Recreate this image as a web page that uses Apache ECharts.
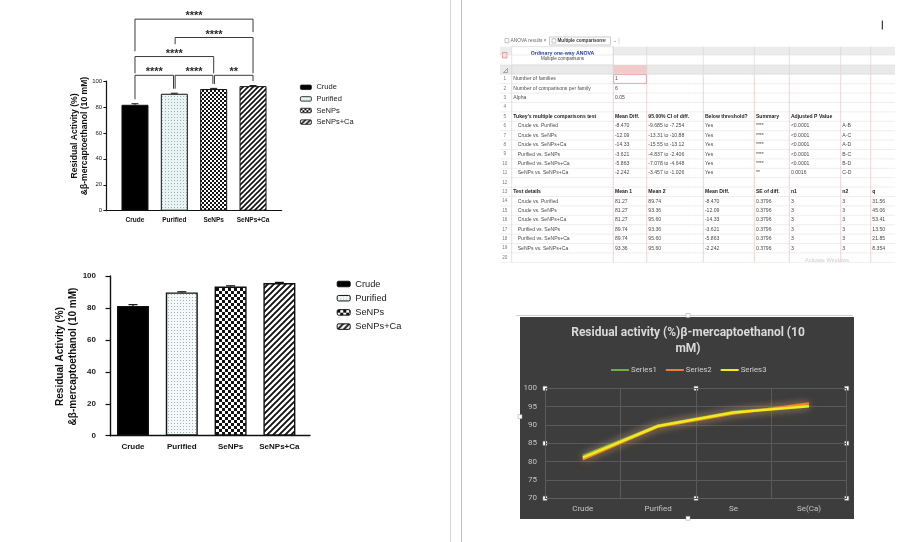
<!DOCTYPE html>
<html><head><meta charset="utf-8">
<script src="https://cdn.jsdelivr.net/npm/echarts/dist/echarts.min.js"></script>
<style>
html,body{margin:0;padding:0;background:#fff;overflow:hidden;}
#darkbg{position:absolute;left:520px;top:316.5px;width:334px;height:202px;background:#3d3d3d;}
#chart{position:absolute;left:0;top:0;width:916px;height:542px;}
</style></head>
<body>
<div id="darkbg"></div>
<div id="chart"></div>
<script>
// ---------------- DATA ----------------
const categories = ['Crude', 'Purified', 'SeNPs', 'SeNPs+Ca'];
const meanActivity = [81.27, 89.74, 93.36, 95.60];
const errActivity = [0.8, 0.4, 0.5, 0.4];
const yTitleLines = ['Residual Activity (%)', '&β-mercaptoethanol (10 mM)'];
// comparisons: [groupA, groupB, significance]
const comparisons = [[0, 1, '****'], [1, 2, '****'], [2, 3, '**'], [0, 2, '****'], [1, 3, '****'], [0, 3, '****']];

const lineTitle = ['Residual activity (%)β-mercaptoethanol (10', 'mM)'];
const lineCategories = ['Crude', 'Purified', 'Se', 'Se(Ca)'];
const lineSeriesNames = ['Series1', 'Series2', 'Series3'];
const series1 = [81.6, 89.9, 93.6, 95.3];
const series2 = [80.6, 89.5, 93.1, 95.9];
const series3 = [81.1, 89.7, 93.4, 95.1];

const sheetRows = [
  ['Number of families', '1'],
  ['Number of comparisons per family', '6'],
  ['Alpha', '0.05'],
  [],
  ["Tukey's multiple comparisons test", 'Mean Diff.', '95.00% CI of diff.', 'Below threshold?', 'Summary', 'Adjusted P Value', ''],
  ['Crude vs. Purified', '-8.470', '-9.685 to -7.254', 'Yes', '****', '<0.0001', 'A-B'],
  ['Crude vs. SeNPs', '-12.09', '-13.31 to -10.88', 'Yes', '****', '<0.0001', 'A-C'],
  ['Crude vs. SeNPs+Ca', '-14.33', '-15.55 to -13.12', 'Yes', '****', '<0.0001', 'A-D'],
  ['Purified vs. SeNPs', '-3.621', '-4.837 to -2.406', 'Yes', '****', '<0.0001', 'B-C'],
  ['Purified vs. SeNPs+Ca', '-5.863', '-7.078 to -4.648', 'Yes', '****', '<0.0001', 'B-D'],
  ['SeNPs vs. SeNPs+Ca', '-2.242', '-3.457 to -1.026', 'Yes', '**', '0.0016', 'C-D'],
  [],
  ['Test details', 'Mean 1', 'Mean 2', 'Mean Diff.', 'SE of diff.', 'n1', 'n2', 'q'],
  ['Crude vs. Purified', '81.27', '89.74', '-8.470', '0.3796', '3', '3', '31.56'],
  ['Crude vs. SeNPs', '81.27', '93.36', '-12.09', '0.3796', '3', '3', '45.06'],
  ['Crude vs. SeNPs+Ca', '81.27', '95.60', '-14.33', '0.3796', '3', '3', '53.41'],
  ['Purified vs. SeNPs', '89.74', '93.36', '-3.621', '0.3796', '3', '3', '13.50'],
  ['Purified vs. SeNPs+Ca', '89.74', '95.60', '-5.863', '0.3796', '3', '3', '21.85'],
  ['SeNPs vs. SeNPs+Ca', '93.36', '95.60', '-2.242', '0.3796', '3', '3', '8.354'],
  []
];
const boldRows = [5, 13];
const indentRows = [6, 7, 8, 9, 10, 11, 14, 15, 16, 17, 18, 19];

// ---------------- STYLE / LAYOUT ----------------
const FF = '"Liberation Sans", Arial, sans-serif';
const XF = 'Roboto, "Open Sans", sans-serif';
// bracket geometry (y-axis units of top-left panel)
const bracketLevel = [103.9, 103.9, 103.9, 118.3, 132.9, 147.0];
const bracketLegs = [null, null, null, [105.4, 105.4], [127.8, 105.4], [122.4, 137.0]];
const bracketInset = [[0, -0.8], [0.8, -0.8], [0.8, 0], [0, 0], [0.8, 0], [0, 0]];

function pat(kind, size) {
  const c = document.createElement('canvas');
  const ctx = c.getContext('2d');
  if (kind === 'dots') {
    c.width = c.height = 3;
    ctx.fillStyle = size > 2 ? '#f5f9f9' : '#eaf3f3'; ctx.fillRect(0, 0, 3, 3);
    ctx.fillStyle = '#9fb5b5'; ctx.fillRect(0, 0, 1, 1);
  } else if (kind === 'check') {
    const s = size; c.width = c.height = 2 * s;
    ctx.fillStyle = '#fff'; ctx.fillRect(0, 0, 2 * s, 2 * s);
    ctx.fillStyle = '#111'; ctx.fillRect(0, 0, s, s); ctx.fillRect(s, s, s, s);
  } else {
    const s = size; c.width = c.height = s;
    ctx.fillStyle = '#fff'; ctx.fillRect(0, 0, s, s);
    ctx.strokeStyle = '#111'; ctx.lineWidth = s * 0.32;
    ctx.beginPath();
    ctx.moveTo(-1, s + 1); ctx.lineTo(s + 1, -1);
    ctx.moveTo(-1, 1); ctx.lineTo(1, -1);
    ctx.moveTo(s - 1, s + 1); ctx.lineTo(s + 1, s - 1);
    ctx.stroke();
  }
  return { image: c, repeat: 'repeat' };
}
const fills1 = ['#000', pat('dots', 2), pat('check', 2), pat('stripe', 5)];
const fills2 = ['#000', pat('dots', 3), pat('check', 3), pat('stripe', 6)];

const chart = echarts.init(document.getElementById('chart'), null, { renderer: 'canvas', width: 916, height: 542 });

function barSeries(fills, xi, yi, bw, bwidth) {
  return categories.map((name, i) => ({
    type: 'bar', name: name, xAxisIndex: xi, yAxisIndex: yi, barWidth: bw, barGap: '-100%',
    data: meanActivity.map((v, j) => (j === i ? v : '-')),
    itemStyle: { color: fills[i], borderColor: '#111', borderWidth: bwidth },
    silent: true, z: 3
  }));
}
function errSeries(xi, yi, cap, lw) {
  return {
    type: 'custom', name: 'err' + xi, xAxisIndex: xi, yAxisIndex: yi, z: 4, silent: true, clip: false,
    data: meanActivity.map((v, i) => [i, v, v + errActivity[i]]),
    renderItem: (p, api) => {
      const b = api.coord([api.value(0), api.value(1)]);
      const t = api.coord([api.value(0), api.value(2)]);
      return { type: 'group', children: [
        { type: 'line', shape: { x1: b[0], y1: b[1], x2: b[0], y2: t[1] }, style: { stroke: '#111', lineWidth: lw } },
        { type: 'line', shape: { x1: b[0] - cap, y1: t[1], x2: b[0] + cap, y2: t[1] }, style: { stroke: '#111', lineWidth: lw } }
      ] };
    }
  };
}
const bracketSeries = {
  type: 'custom', name: 'brackets', xAxisIndex: 1, yAxisIndex: 1, z: 5, silent: true, clip: false,
  data: comparisons.map((c, i) => [c[0], bracketLevel[i]]),
  renderItem: (p, api) => {
    const i = p.dataIndex;
    const a = comparisons[i][0], b = comparisons[i][1];
    const pa = api.coord([a, bracketLevel[i]]);
    const pb = api.coord([b, bracketLevel[i]]);
    const xa = pa[0] + bracketInset[i][0], xb = pb[0] + bracketInset[i][1];
    let ya, yb;
    if (bracketLegs[i]) {
      ya = api.coord([a, bracketLegs[i][0]])[1];
      yb = api.coord([b, bracketLegs[i][1]])[1];
    } else {
      ya = api.coord([a, meanActivity[a] + errActivity[a]])[1] - 4.5;
      yb = api.coord([b, meanActivity[b] + errActivity[b]])[1] - 4.5;
    }
    return { type: 'group', children: [
      { type: 'polyline', shape: { points: [[xa, ya], [xa, pa[1]], [xb, pb[1]], [xb, yb]] }, style: { stroke: '#3a3a3a', lineWidth: 1, fill: null } },
      { type: 'text', x: (xa + xb) / 2, y: pa[1] - 3.0, style: { text: comparisons[i][2], font: 'bold 11px ' + FF, fill: '#2a2a2a', align: 'center', verticalAlign: 'middle', textAlign: 'center', textVerticalAlign: 'middle' } }
    ] };
  }
};

const lineColors = ['#70ad47', '#ed7d31', '#f2ea1c'];
const lineGlow = ['rgba(110,110,230,0.8)', 'rgba(237,125,49,0.65)', 'rgba(240,220,40,0.6)'];
const lineData = [series1, series2, series3];
const lineSeries = lineSeriesNames.map((n, i) => ({
  type: 'line', name: n, xAxisIndex: 4, yAxisIndex: 4, data: lineData[i], symbol: 'none', silent: true,
  color: lineColors[i],
  lineStyle: { color: lineColors[i], width: i === 2 ? 2.6 : 2.2, shadowBlur: 9, shadowColor: lineGlow[i] },
  itemStyle: { color: lineColors[i] }, z: 3 + i
}));

// ---------------- GRAPHIC (decor, titles, spreadsheet) ----------------
const g = [];
function T(x, y, text, font, fill, align, vAlign, extra) {
  return Object.assign({ type: 'text', x: x, y: y, silent: true,
    style: { text: text, font: font, fill: fill, align: align || 'left', verticalAlign: vAlign || 'middle', textAlign: align || 'left', textVerticalAlign: vAlign || 'middle' } }, extra || {});
}
function L(x1, y1, x2, y2, c, w) { return { type: 'line', silent: true, shape: { x1, y1, x2, y2 }, style: { stroke: c, lineWidth: w || 1 } }; }
function R(x, y, w, h, fill, stroke, lw) { return { type: 'rect', silent: true, shape: { x, y, width: w, height: h }, style: { fill: fill, stroke: stroke || null, lineWidth: lw || 0 } }; }

// page separators & cursor
g.push(L(450.5, 0, 450.5, 542, '#d6d6d6', 1));
g.push(L(461.5, 0, 461.5, 542, '#c2c2c2', 1));
g.push(L(882.3, 20.5, 882.3, 29.5, '#111', 1));

// rotated y titles
g.push(T(75, 136, yTitleLines[0], 'bold 8.6px ' + FF, '#111', 'center', 'middle', { rotation: Math.PI / 2 }));
g.push(T(85, 136, yTitleLines[1], 'bold 8.6px ' + FF, '#111', 'center', 'middle', { rotation: Math.PI / 2 }));
g.push(T(60, 356.5, yTitleLines[0], 'bold 10px ' + FF, '#111', 'center', 'middle', { rotation: Math.PI / 2 }));
g.push(T(73.3, 356.5, yTitleLines[1], 'bold 10px ' + FF, '#111', 'center', 'middle', { rotation: Math.PI / 2 }));

// excel chart: title, frame, handles
g.push(T(688, 333.3, lineTitle[0], 'bold 12px ' + XF, '#d9d9d9', 'center', 'middle'));
g.push(T(688, 349.3, lineTitle[1], 'bold 12px ' + XF, '#d9d9d9', 'center', 'middle'));
g.push(L(516, 315.5, 853, 315.5, '#cfcfcf', 1));
const handles = [[545, 388.3], [696, 388.3], [846.7, 388.3], [545, 443.3], [846.7, 443.3], [545, 498.3], [696, 498.3], [846.7, 498.3], [688, 315.5], [688, 518.3], [520, 416.7]];
handles.forEach(h => g.push(R(h[0] - 2, h[1] - 2, 4, 4, '#ffffff', '#9a9a9a', 0.5)));

// spreadsheet
const colX = [500, 511.7, 613.3, 646.7, 703.3, 754.3, 789.3, 840.7, 870.7, 895];
const rowTop0 = 74.3, rowH = 9.4;
const tableBottom = rowTop0 + sheetRows.length * rowH;
// tabs
g.push(R(505, 38.5, 3.8, 4.2, '#fff', '#888', 0.5));
g.push(T(510.5, 40.8, 'ANOVA results', '4.8px ' + FF, '#666', 'left'));
g.push(T(543.5, 40.8, '×', '5px ' + FF, '#777', 'left'));
g.push(R(549.5, 37, 61, 8, '#fff', '#a8a8a8', 0.6));
g.push(R(552, 38.8, 3.8, 4.2, '#fff', '#888', 0.5));
g.push(T(557.5, 40.8, 'Multiple comparisons', 'bold 4.6px ' + FF, '#333', 'left'));
g.push(T(603.5, 40.8, '×', '5px ' + FF, '#777', 'left'));
g.push(T(612.5, 40.8, '⌄', '5px ' + FF, '#777', 'left'));
g.push(L(619, 37.5, 619, 44, '#c8c8c8', 0.6));
// header bands
g.push(R(500, 46.7, 395, 8.3, '#ececec'));
g.push(R(613.3, 55, 281.7, 10, '#ffffff'));
g.push(R(511.7, 46.7, 101.6, 18.3, '#ffffff', '#d4d4d4', 0.6));
g.push(R(502.5, 52.5, 4.5, 5.5, '#f6dede', '#c06060', 0.5));
g.push(T(562.5, 54, 'Ordinary one-way ANOVA', 'bold 5.2px ' + FF, '#23389a', 'center'));
g.push(T(562.5, 59.2, 'Multiple comparisons', '4.6px ' + FF, '#444', 'center'));
g.push(R(500, 65, 395, 8.7, '#e9e9e9'));
g.push(R(613.3, 65, 33.4, 8.7, '#f3caca'));
g.push({ type: 'polygon', silent: true, shape: { points: [[503.5, 72.5], [507.5, 72.5], [507.5, 68.5]] }, style: { fill: null, stroke: '#777', lineWidth: 0.6 } });
// grid lines
for (let r = 0; r <= sheetRows.length; r++) {
  const y = rowTop0 + r * rowH;
  g.push(L(500, y, 895, y, '#e2e2e2', 0.6));
}
g.push(L(500, 55, 895, 55, '#e0e0e0', 0.6));
g.push(L(500, 65, 895, 65, '#dadada', 0.6));
g.push(L(500, 73.7, 895, 73.7, '#d6d6d6', 0.6));
colX.forEach((x, i) => {
  if (i === 0 || i === colX.length - 1) return;
  if (i >= 2) {
    g.push(L(x, 46.7, x, 73.7, '#d2d2d2', 0.6));
    g.push(L(x, 74.3, x, tableBottom, '#efc3c3', 0.7));
  } else {
    g.push(L(x, 65, x, tableBottom, '#cfcfcf', 0.6));
  }
});
// row numbers and cells
sheetRows.forEach((row, ri) => {
  const n = ri + 1;
  const cy = rowTop0 + ri * rowH + rowH / 2;
  g.push(T(504.8, cy, String(n), '4.6px ' + FF, '#7a7a7a', 'center'));
  const bold = boldRows.indexOf(n) >= 0;
  row.forEach((txt, ci) => {
    if (!txt) return;
    let x = colX[ci + 1] + 1.6;
    if (ci === 0 && indentRows.indexOf(n) >= 0) x += 4.4;
    g.push(T(x, cy, txt, (bold ? 'bold ' : '') + '5.1px ' + FF, bold ? '#222' : '#4a4a4a', 'left'));
  });
});
g.push(R(613.6, rowTop0 + 0.3, 32.8, rowH - 0.6, null, '#e09a9a', 0.8));
g.push(T(805, 260.2, 'Activate Windows', '5.6px ' + FF, '#cdcdcd', 'left'));

// ---------------- OPTION ----------------
const legendItems = (fills, bw) => categories.map((n, i) => ({ name: n, itemStyle: { color: fills[i], borderColor: '#111', borderWidth: bw } }));

const option = {
  animation: false,
  backgroundColor: 'transparent',
  grid: [
    { left: 106.7, top: 81, width: 175, height: 129.7 },
    { left: 115.3, top: 2.2, width: 157.4, height: 208.5 },
    { left: 110, top: 276, width: 200, height: 159.7 },
    { left: 108.6, top: 276, width: 195.2, height: 159.7 },
    { left: 545, top: 388.3, width: 301.7, height: 110 }
  ],
  xAxis: [
    { gridIndex: 0, type: 'value', min: 0, max: 1, axisLine: { show: true, onZero: false, lineStyle: { color: '#111', width: 1.2 } }, axisTick: { show: false }, axisLabel: { show: false }, splitLine: { show: false } },
    { gridIndex: 1, type: 'category', data: categories, axisLine: { show: false }, axisTick: { show: false }, splitLine: { show: false },
      axisLabel: { interval: 0, margin: 6, fontSize: 6.5, fontWeight: 'bold', color: '#111', fontFamily: FF } },
    { gridIndex: 2, type: 'value', min: 0, max: 1, axisLine: { show: true, onZero: false, lineStyle: { color: '#111', width: 1.4 } }, axisTick: { show: false }, axisLabel: { show: false }, splitLine: { show: false } },
    { gridIndex: 3, type: 'category', data: categories, axisLine: { show: false }, axisTick: { show: false }, splitLine: { show: false },
      axisLabel: { interval: 0, margin: 7, fontSize: 8, fontWeight: 'bold', color: '#111', fontFamily: FF } },
    { gridIndex: 4, type: 'category', data: lineCategories, boundaryGap: true, axisLine: { show: true, lineStyle: { color: '#5e5e5e' } }, axisTick: { show: false },
      splitLine: { show: true, lineStyle: { color: '#5a5a5a', width: 1 } },
      axisLabel: { interval: 0, margin: 7, fontSize: 8, color: '#c4c4c4', fontFamily: XF } }
  ],
  yAxis: [
    { gridIndex: 0, type: 'value', min: 0, max: 100, interval: 20, axisLine: { show: true, onZero: false, lineStyle: { color: '#111', width: 1.2 } },
      axisTick: { show: true, length: 3.3, lineStyle: { color: '#111', width: 1 } }, splitLine: { show: false },
      axisLabel: { margin: 4.5, fontSize: 6, color: '#222', fontFamily: FF } },
    { gridIndex: 1, type: 'value', min: 0, max: 160, show: false, splitLine: { show: false } },
    { gridIndex: 2, type: 'value', min: 0, max: 100, interval: 20, axisLine: { show: true, onZero: false, lineStyle: { color: '#111', width: 1.4 } },
      axisTick: { show: true, length: 4.5, lineStyle: { color: '#111', width: 1.2 } }, splitLine: { show: false },
      axisLabel: { margin: 14, fontSize: 8, fontWeight: 'bold', color: '#222', fontFamily: FF } },
    { gridIndex: 3, type: 'value', min: 0, max: 100, show: false, splitLine: { show: false } },
    { gridIndex: 4, type: 'value', min: 70, max: 100, interval: 5, axisLine: { show: false }, axisTick: { show: false },
      splitLine: { show: true, lineStyle: { color: '#5a5a5a', width: 1 } },
      axisLabel: { margin: 8, fontSize: 8, color: '#c4c4c4', fontFamily: XF } }
  ],
  legend: [
    { data: legendItems(fills1, 0.8), orient: 'vertical', left: 300, top: 82.8, padding: 0, itemWidth: 11, itemHeight: 4.5, itemGap: 2.6,
      selectedMode: false, textStyle: { fontSize: 7.5, lineHeight: 9, color: '#222', fontFamily: FF } },
    { data: legendItems(fills2, 1), orient: 'vertical', left: 336.7, top: 278.5, padding: 0, itemWidth: 13, itemHeight: 5.5, itemGap: 3.2,
      selectedMode: false, textStyle: { fontSize: 9.3, lineHeight: 11, color: '#222', fontFamily: FF } },
    { data: lineSeriesNames, orient: 'horizontal', left: 611, top: 366, padding: 0, icon: 'rect', itemWidth: 18, itemHeight: 2, itemGap: 9,
      selectedMode: false, textStyle: { fontSize: 7.8, color: '#cfcfcf', fontFamily: XF, padding: [0, 0, 0, -3] } }
  ],
  graphic: { elements: g },
  series: [].concat(
    barSeries(fills1, 1, 1, 27, 1),
    [errSeries(1, 1, 3.5, 1), bracketSeries],
    barSeries(fills2, 3, 3, 32, 1.4),
    [errSeries(3, 3, 4.5, 1.2)],
    lineSeries
  )
};
chart.setOption(option);
</script>
</body></html>
